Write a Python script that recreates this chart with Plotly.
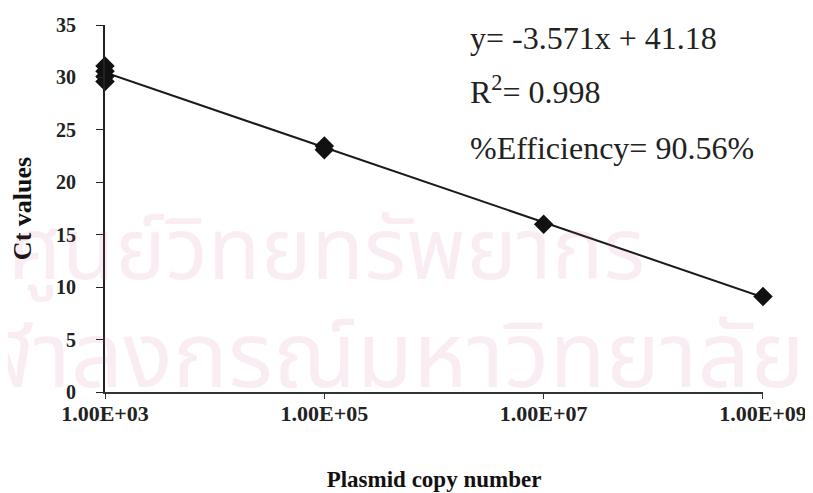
import numpy as np
import plotly.graph_objects as go

# Data (copy number -> Ct)
copy_number = [1e3, 1e3, 1e3, 1e3, 1e5, 1e5, 1e7, 1e9]
ct_values = [31.1, 30.6, 30.1, 29.6, 23.45, 23.1, 16.0, 9.1]

slope = -3.571
intercept = 41.18
fit_x = [1e3, 1e9]
fit_y = [slope * np.log10(v) + intercept for v in fit_x]

x_tickvals = [1e3, 1e5, 1e7, 1e9]
x_ticktext = ["1.00E+03", "1.00E+05", "1.00E+07", "1.00E+09"]
y_tickvals = [0, 5, 10, 15, 20, 25, 30, 35]

watermark = ["ศูนย์วิทยทรัพยากร", "จุฬาลงกรณ์มหาวิทยาลัย"]
eq_lines = ["y= -3.571x + 41.18", "R<sup>2</sup>= 0.998", "%Efficiency= 90.56%"]

serif = "Times New Roman, Liberation Serif, Tinos, serif"
thai = "Noto Sans Thai, Noto Sans, DejaVu Sans"

fig = go.Figure()

# faint background watermark
fig.add_annotation(xref="paper", yref="paper", x=-0.15, y=0.38, xanchor="left",
                   yanchor="middle", text=watermark[0], showarrow=False,
                   font=dict(size=86, color="rgba(205,70,140,0.10)", family=thai))
fig.add_annotation(xref="paper", yref="paper", x=-0.28, y=0.09, xanchor="left",
                   yanchor="middle", text=watermark[1], showarrow=False,
                   font=dict(size=92, color="rgba(205,70,140,0.10)", family=thai))

fig.add_trace(go.Scatter(x=fit_x, y=fit_y, mode="lines",
                         line=dict(color="#1a1a1a", width=2), showlegend=False,
                         cliponaxis=False))
fig.add_trace(go.Scatter(x=copy_number, y=ct_values, mode="markers",
                         marker=dict(symbol="diamond", size=15, color="#111"),
                         showlegend=False, cliponaxis=False))

for i, t in enumerate(eq_lines):
    fig.add_annotation(xref="paper", yref="paper", x=0.552, y=[0.964, 0.824, 0.664][i],
                       xanchor="left", yanchor="middle", text=t, showarrow=False,
                       font=dict(size=32, color="#222", family="Liberation Serif"))

# page body has an 8px margin: figure is sized so the plot area lands where the reference's is
fig.update_layout(
    width=805, height=485,
    margin=dict(l=97, r=50, t=17, b=101),
    paper_bgcolor="white", plot_bgcolor="rgba(0,0,0,0)",
    xaxis=dict(type="log", range=[2.9999, 9.0001], tickvals=x_tickvals, ticktext=x_ticktext,
               automargin=False,
               showgrid=False, zeroline=False, showline=True, linecolor="#333",
               linewidth=2, ticks="outside", ticklen=5, tickcolor="#333",
               ticklabelstandoff=-4,
               tickfont=dict(size=22, color="#222", family=serif, weight="bold"),
               title=dict(text="Plasmid copy number", standoff=45,
                          font=dict(size=23, color="#111", family=serif, weight="bold"))),
    yaxis=dict(range=[0, 35], tickvals=y_tickvals, showgrid=False, zeroline=False,
               automargin=False,
               showline=True, linecolor="#222", linewidth=2, ticks="outside",
               ticklen=7, tickcolor="#222", ticklabelstandoff=16,
               tickfont=dict(size=20, color="#222", family=serif, weight="bold"),
               title=dict(text="Ct values", standoff=24,
                          font=dict(size=26, color="#111", family=serif, weight="bold"))),
)

fig.write_html("out.html")
